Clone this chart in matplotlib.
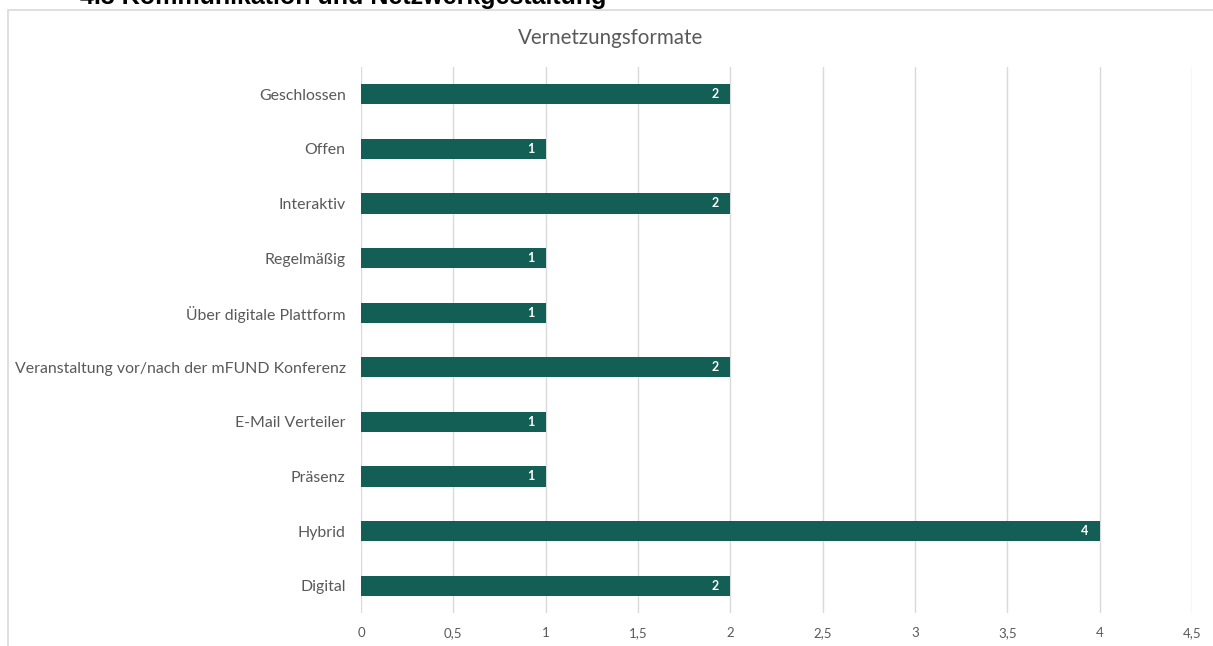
import matplotlib
matplotlib.use('Agg')
import matplotlib.pyplot as plt
from matplotlib.patches import Rectangle

categories = ['Geschlossen', 'Offen', 'Interaktiv', 'Regelmäßig', 'Über digitale Plattform',
              'Veranstaltung vor/nach der mFUND Konferenz', 'E-Mail Verteiler', 'Präsenz',
              'Hybrid', 'Digital']
counts = [2, 1, 2, 1, 1, 2, 1, 1, 4, 2]
xticks = [0, 0.5, 1, 1.5, 2, 2.5, 3, 3.5, 4, 4.5]
xticklabels = ['0', '0,5', '1', '1,5', '2', '2,5', '3', '3,5', '4', '4,5']

bar_color = '#135e55'
grey = '#595959'
plt.rcParams['font.family'] = ['Lato', 'DejaVu Sans']

fig = plt.figure(figsize=(12.13, 6.46), dpi=100)
ax = fig.add_axes([0.2976, 0.0511, 0.6851, 0.8452])

# chart frame and cut-off heading (the source screenshot crops it)
fig.patches.append(Rectangle((8 / 1213, -0.1), 1.2, 1 - 10 / 646 + 0.1, transform=fig.transFigure,
                             fill=False, edgecolor='#d9d9d9', linewidth=1.2))
fig.text(80 / 1213, 1 - 4 / 646, '4.3 Kommunikation und Netzwerkgestaltung', family='Liberation Sans',
         weight='bold', fontsize=18, color='black', va='baseline', ha='left')

y = list(range(len(categories)))[::-1]
ax.barh(y, counts, height=0.37, color=bar_color, zorder=3)
for yi, c in zip(y, counts):
    ax.text(c - 0.06, yi, str(c), color='white', fontsize=9, weight='bold',
            ha='right', va='center', zorder=4)

ax.set_yticks(y)
ax.set_yticklabels(categories, fontsize=11.4, color=grey)
ax.set_xticks(xticks)
ax.set_xticklabels(xticklabels, fontsize=9.5, color=grey)
ax.set_xlim(0, 4.5)
ax.set_ylim(-0.5, 9.5)
ax.tick_params(length=0)
ax.tick_params(axis='y', pad=11)
ax.tick_params(axis='x', pad=10)
ax.grid(axis='x', color='#d9d9d9', linewidth=1, zorder=0)
for s in ax.spines.values():
    s.set_visible(False)

fig.text(0.5035, 1 - 38 / 646, 'Vernetzungsformate', fontsize=14.8, color=grey, ha='center', va='center')

fig.savefig('out.png', dpi=100)
